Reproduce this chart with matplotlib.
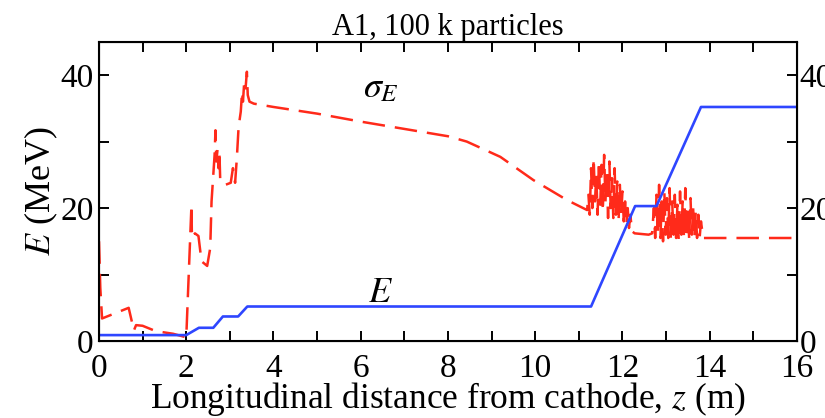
import numpy as np
import matplotlib
matplotlib.use("Agg")
import matplotlib.pyplot as plt
from matplotlib.ticker import MultipleLocator

plt.rcParams["font.family"] = ["Liberation Serif", "DejaVu Serif"]
plt.rcParams["mathtext.fontset"] = "stix"

# ------------------------------------------------------------
# data
# ------------------------------------------------------------
# beam energy E (MeV) vs z (m)
z_E = [0.0, 2.0, 2.29, 2.62, 2.84, 3.19, 3.4, 11.28, 12.29, 12.78, 13.8, 16.0]
E = [0.9, 0.9, 2.0, 2.0, 3.7, 3.7, 5.2, 5.2, 20.3, 20.3, 35.2, 35.2]

# energy spread sigma_E vs z
z_sig = [0.0, 0.03, 0.07, 0.3, 0.68, 0.75, 0.8, 0.85, 1.0, 1.3, 1.7, 1.98,
         2.0, 2.05, 2.12, 2.13, 2.2, 2.28, 2.35, 2.48, 2.55, 2.58, 2.62,
         2.65, 2.67, 2.69, 2.72, 2.74, 2.76, 2.78, 2.9, 3.02, 3.07, 3.12,
         3.16, 3.2, 3.25, 3.28, 3.3, 3.33, 3.36, 3.39, 3.41, 3.45, 3.55,
         4.0, 5.0, 6.0, 7.0, 8.0, 8.43, 9.2, 9.96, 10.73, 11.19,
         11.22, 11.25, 11.28, 11.31, 11.34, 11.37, 11.40, 11.43, 11.46,
         11.49, 11.52, 11.55, 11.58, 11.61, 11.64, 11.67, 11.70, 11.73,
         11.76, 11.79, 11.82, 11.85, 11.88, 11.91, 11.94, 11.97, 12.00,
         12.03, 12.06, 12.09, 12.12, 12.15, 12.18, 12.22, 12.28, 12.6,
         12.68, 12.72, 12.75, 12.78, 12.81, 12.84, 12.87, 12.90, 12.93,
         12.96, 12.99, 13.02, 13.05, 13.08, 13.11, 13.14, 13.17, 13.20,
         13.23, 13.26, 13.29, 13.32, 13.35, 13.38, 13.41, 13.44, 13.47,
         13.50, 13.53, 13.56, 13.59, 13.62, 13.65, 13.68, 13.71, 13.74,
         13.77, 13.80, 13.85, 16.0]
sig = [15.0, 8.0, 3.4, 4.0, 5.0, 3.0, 1.6, 2.4, 2.3, 1.5, 1.1, 0.6,
       0.5, 9.0, 20.5, 15.5, 16.2, 15.8, 12.0, 11.3, 14.0, 21.0, 25.0,
       28.0, 31.7, 27.0, 29.0, 26.0, 28.5, 24.0, 23.5, 23.8, 26.0, 23.8,
       27.5, 32.2, 34.5, 37.5, 36.0, 39.0, 38.0, 40.5, 37.0, 36.0, 35.7,
       35.2, 34.2, 33.0, 31.9, 30.8, 30.0, 27.7, 24.2, 21.2, 19.7,
       22.0, 19.0, 26.0, 20.0, 27.5, 21.0, 25.0, 19.0, 27.0,
       20.5, 26.5, 19.5, 28.0, 21.0, 25.5, 18.5, 27.0, 20.0,
       24.5, 18.5, 26.0, 19.0, 24.0, 18.0, 23.5, 19.0, 22.5,
       18.0, 21.0, 17.5, 20.0, 17.0, 19.0, 16.5, 16.2, 16.0,
       16.2, 20.0, 15.5, 22.0, 16.0, 23.5, 15.5, 21.0, 15.0,
       22.5, 16.0, 21.5, 15.5, 23.0, 15.0, 21.0, 16.0, 22.0,
       15.5, 20.5, 15.0, 22.5, 16.0, 21.0, 15.5, 23.0, 15.5,
       20.0, 15.2, 21.5, 16.0, 20.0, 15.5, 19.5, 15.5, 19.0,
       15.6, 18.0, 15.5, 15.5]

RED = "#ff2a1a"
BLUE = "#2e46ff"

fig = plt.figure(figsize=(8.25, 4.18), dpi=100)
ax = fig.add_axes([0.12, 0.184, 0.846, 0.716])

ax.plot(z_sig, sig, color=RED, lw=1.8, linestyle=(0, (9, 4)))
ax.plot(z_E, E, color=BLUE, lw=1.9)

ax.set_xlim(0, 16)
ax.set_ylim(0, 45)
ax.xaxis.set_major_locator(MultipleLocator(2))
ax.xaxis.set_minor_locator(MultipleLocator(1))
ax.yaxis.set_major_locator(MultipleLocator(20))
ax.yaxis.set_minor_locator(MultipleLocator(10))
ax.tick_params(which="both", direction="in", top=True, width=1.4,
               length=7, labelsize=24)
ax.tick_params(axis="x", pad=9)
ax.tick_params(axis="y", pad=4)
for s in ax.spines.values():
    s.set_linewidth(1.5)

# right axis duplicates the left scale
ax2 = ax.twinx()
ax2.set_ylim(0, 45)
ax2.yaxis.set_major_locator(MultipleLocator(20))
ax2.yaxis.set_minor_locator(MultipleLocator(10))
ax2.tick_params(which="both", direction="in", width=1.4, length=7,
                labelsize=24, pad=2)

ax.set_xlabel("Longitudinal distance from cathode, $z$ (m)", fontsize=25.5,
              labelpad=-3)
ax.set_ylabel("$E$ (MeV)", fontsize=26, labelpad=0)
ax.set_title("A1, 100 k particles", fontsize=22, pad=4)

ax.text(6.47, 37.9, r"$\sigma_E$", fontsize=26, ha="center", va="center")
ax.text(6.45, 7.2, "$E$", fontsize=26, ha="center", va="center")

fig.savefig("out.png", dpi=100)
